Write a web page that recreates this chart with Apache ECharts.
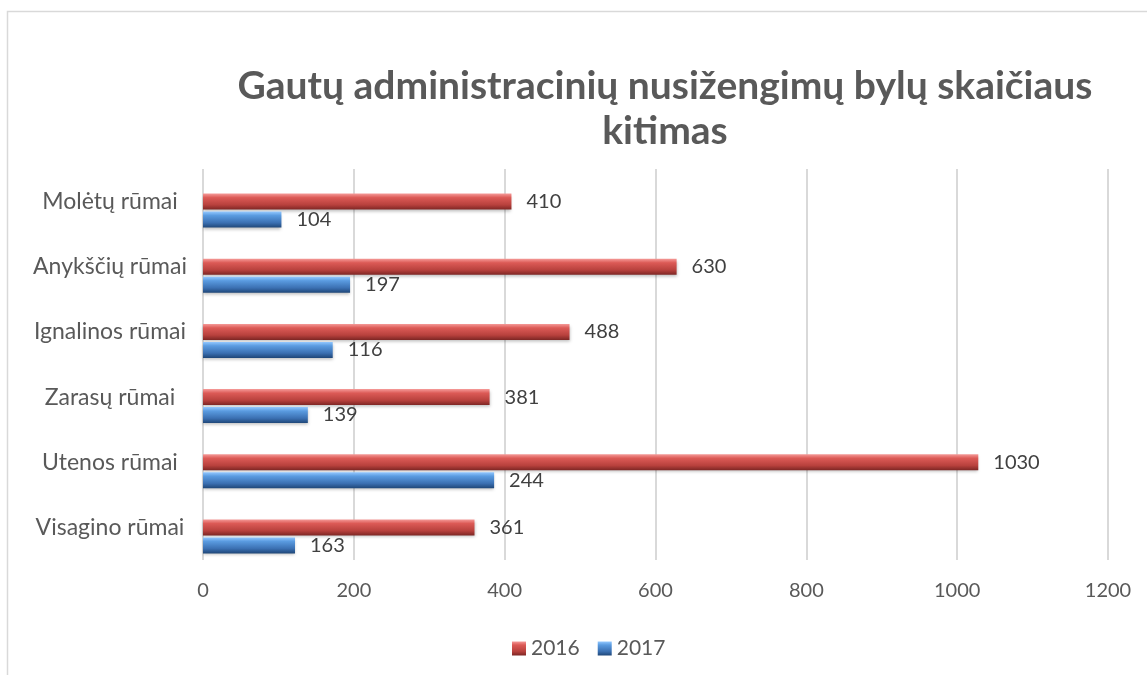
<!DOCTYPE html>
<html>
<head>
<meta charset="utf-8">
<script src="https://cdn.jsdelivr.net/npm/echarts@6/dist/echarts.min.js"></script>
<style>
  html, body { margin: 0; padding: 0; background: #fff; }
  #main { width: 1147px; height: 675px; }
</style>
</head>
<body>
<div id="main"></div>
<script>
// bottom to top, as the axis draws them
var categories = ["Visagino rūmai", "Utenos rūmai", "Zarasų rūmai", "Ignalinos rūmai", "Anykščių rūmai", "Molėtų rūmai"];
var seriesNames = ["2016", "2017"];
// bar lengths
var values2016 = [360, 1028, 380, 486, 628, 409];
var values2017 = [122, 386, 139, 172, 195, 104];
// data labels printed next to the bars
var labels2016 = ["361", "1030", "381", "488", "630", "410"];
var labels2017 = ["163", "244", "139", "116", "197", "104"];
var xTicks = [0, 200, 400, 600, 800, 1000, 1200];

var FONT = "Lato";
var TXT = "#595959";

function grad(stops) {
  return new echarts.graphic.LinearGradient(0, 0, 0, 1, stops);
}
var redFill = grad([
  { offset: 0, color: "#f59a98" },
  { offset: 0.25, color: "#dc5a56" },
  { offset: 0.7, color: "#b8413d" },
  { offset: 1, color: "#7d2624" }
]);
var blueFill = grad([
  { offset: 0, color: "#93c8ff" },
  { offset: 0.25, color: "#5a9be0" },
  { offset: 0.7, color: "#3b70b2" },
  { offset: 1, color: "#1f4778" }
]);

function barSeries(name, data, labels, fill) {
  return {
    name: name,
    type: "bar",
    xAxisIndex: 1,
    yAxisIndex: 1,
    barWidth: 16,
    barGap: "12%",
    data: data,
    itemStyle: {
      color: fill,
      shadowColor: "rgba(0,0,0,0.25)",
      shadowBlur: 3,
      shadowOffsetY: 2
    },
    label: {
      show: true,
      position: "right",
      distance: 15,
      color: "#404040",
      fontSize: 20,
      fontFamily: FONT,
      formatter: function (p) { return labels[p.dataIndex]; }
    }
  };
}

var myChart = echarts.init(document.getElementById("main"));
myChart.setOption({
  animation: false,
  color: ["#c0504d", "#4f81bd"],
  graphic: [
    {
      type: "rect",
      shape: { x: 7.5, y: 11.5, width: 1300, height: 800 },
      style: { fill: null, stroke: "#d9d9d9", lineWidth: 1.5 },
      silent: true
    },
    {
      type: "text",
      x: 665,
      y: 64,
      style: {
        text: "Gautų administracinių nusižengimų bylų skaičiaus\nkitimas",
        font: "bold 39px " + FONT,
        fill: TXT,
        textAlign: "center",
        lineHeight: 45
      }
    }
  ],
  legend: {
    data: seriesNames,
    left: 507,
    top: 633,
    icon: "rect",
    itemWidth: 14,
    itemHeight: 14,
    itemGap: 18,
    textStyle: { color: TXT, fontSize: 21, fontFamily: FONT }
  },
  grid: [
    // frame for gridlines and axis labels
    { left: 203, right: 39, top: 169, height: 391 },
    // bars sit a little lower than the gridline frame
    { left: 203, right: 39, top: 178, height: 391 }
  ],
  xAxis: [
    {
      gridIndex: 0,
      type: "value",
      min: xTicks[0],
      max: xTicks[xTicks.length - 1],
      interval: 200,
      axisLine: { show: false },
      axisTick: { show: false },
      splitLine: { show: true, lineStyle: { color: "#d9d9d9", width: 2 } },
      axisLabel: {
        color: TXT, fontSize: 20, fontFamily: FONT, margin: 21,
        formatter: function (v) { return String(v); }
      }
    },
    {
      gridIndex: 1,
      type: "value",
      min: xTicks[0],
      max: xTicks[xTicks.length - 1],
      show: false
    }
  ],
  yAxis: [
    {
      gridIndex: 0,
      type: "category",
      data: categories,
      axisLine: { show: false },
      axisTick: { show: false },
      axisLabel: { color: TXT, fontSize: 23, fontFamily: FONT, align: "center", margin: 93 }
    },
    {
      gridIndex: 1,
      type: "category",
      data: categories,
      show: false
    }
  ],
  series: [
    barSeries(seriesNames[0], values2016, labels2016, redFill),
    barSeries(seriesNames[1], values2017, labels2017, blueFill)
  ]
});
</script>
</body>
</html>
